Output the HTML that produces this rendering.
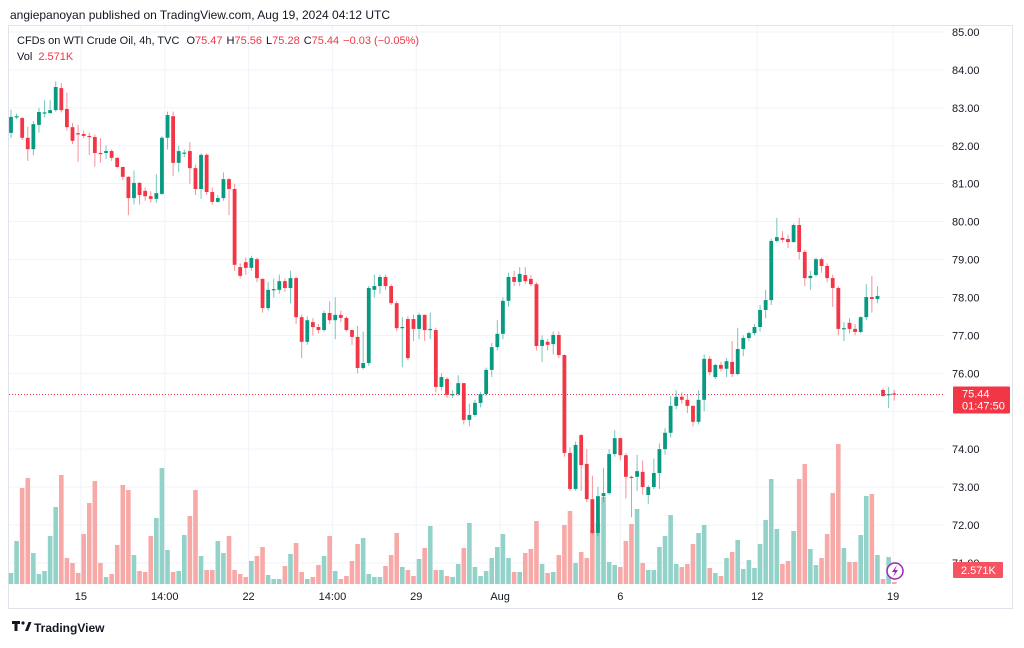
<!DOCTYPE html>
<html><head><meta charset="utf-8"><style>
body{margin:0;background:#fff;font-family:"Liberation Sans",sans-serif;}
svg text{font-family:"Liberation Sans",sans-serif;}
</style></head><body>
<svg id="chart" width="1024" height="643" viewBox="0 0 1024 643" xmlns="http://www.w3.org/2000/svg">
<rect width="1024" height="643" fill="#fff"/>
<text x="10" y="19" font-size="12" fill="#131722">angiepanoyan published on TradingView.com, Aug 19, 2024 04:12 UTC</text>
<rect x="8.5" y="25.5" width="1004" height="583" fill="none" stroke="#e0e3eb"/>
<g id="grid"></g>
<g id="vol"></g>
<g id="candles"></g>
<g id="axis"></g>
<text x="17" y="44" font-size="11" fill="#131722">CFDs on WTI Crude Oil, 4h, TVC <tspan dx="4">O</tspan><tspan fill="#f23645">75.47</tspan><tspan dx="4">H</tspan><tspan fill="#f23645">75.56</tspan><tspan dx="4">L</tspan><tspan fill="#f23645">75.28</tspan><tspan dx="4">C</tspan><tspan fill="#f23645">75.44</tspan><tspan dx="4" fill="#f23645">−0.03 (−0.05%)</tspan></text>
<text x="17" y="60" font-size="11" fill="#131722">Vol <tspan dx="3" fill="#f23645">2.571K</tspan></text>
<g>
<path d="M12 621h8v3h-2.5v7h-3v-7H12z" fill="#131722"/>
<circle cx="23" cy="623" r="1.6" fill="#131722"/>
<path d="M25 631l3.5-9h3l-3.5 9z" fill="#131722"/>
<text x="34" y="632" font-size="12" font-weight="bold" fill="#131722">TradingView</text>
</g>
</svg>
<script>
const opens=[82.34,82.75,82.73,82.21,81.91,82.55,82.86,82.86,82.94,83.52,82.97,82.49,82.33,82.31,82.26,82.23,81.81,81.81,81.86,81.68,81.44,81.18,80.62,81.02,80.81,80.67,80.60,80.73,82.21,82.78,81.55,81.81,81.86,81.41,80.86,81.76,80.78,80.52,80.62,81.12,80.86,78.80,78.93,78.78,79.01,78.49,77.72,78.20,78.20,78.43,78.25,78.51,77.48,76.83,77.35,77.22,77.14,77.59,77.40,77.54,77.46,77.14,76.96,76.14,76.27,78.20,78.30,78.54,78.30,77.85,77.19,77.43,77.43,77.17,77.54,77.14,77.14,75.64,75.85,75.43,75.45,75.74,74.77,74.90,75.22,75.45,76.09,76.69,77.04,77.91,78.54,78.41,78.59,78.49,78.35,76.72,76.83,76.77,77.01,76.48,73.90,72.95,74.37,73.61,72.68,71.79,72.76,72.84,73.87,74.29,73.84,73.27,73.27,73.40,72.79,73.00,73.37,74.00,74.43,75.14,75.38,75.30,75.14,74.72,75.30,76.38,75.90,76.22,76.12,76.30,75.98,76.64,76.93,77.06,77.22,77.67,77.93,79.49,79.57,79.54,79.46,79.91,79.20,78.51,78.59,79.01,78.83,78.51,78.25,77.17,77.33,77.17,77.09,77.48,78.01,77.96,75.56,75.42,75.47];
const closes=[82.76,82.78,82.21,81.91,82.57,82.89,82.88,82.94,83.55,82.94,82.49,82.13,82.31,82.26,82.23,81.81,81.80,81.86,81.68,81.44,81.18,80.62,81.02,80.70,80.67,80.60,80.75,82.21,82.81,81.55,81.86,81.82,81.41,80.86,81.76,80.78,80.52,80.62,81.12,80.86,78.86,78.57,78.78,79.04,78.51,77.72,78.20,78.22,78.43,78.25,78.51,77.48,76.83,77.40,77.22,77.14,77.59,77.40,77.54,77.46,77.14,76.96,76.14,76.27,78.25,78.30,78.54,78.30,77.85,77.19,77.22,76.40,77.17,77.54,77.14,77.17,75.64,75.90,75.43,75.45,75.74,74.77,74.90,75.22,75.45,76.09,76.69,77.04,77.91,78.54,78.41,78.62,78.43,78.35,76.72,76.88,76.75,77.01,76.48,73.90,72.95,74.11,73.58,72.68,71.79,72.76,72.84,73.87,74.29,73.84,73.27,73.25,73.42,73.00,73.00,73.37,74.00,74.43,75.14,75.38,75.30,75.14,74.72,75.30,76.38,76.03,76.22,76.12,76.32,75.98,76.64,76.93,77.06,77.22,77.67,77.93,79.49,79.59,79.52,79.46,79.91,79.20,78.51,78.57,79.01,78.83,78.51,78.25,77.17,77.19,77.17,77.09,77.48,78.01,77.96,78.04,75.40,75.45,75.44];
const highs=[82.95,82.85,82.76,82.5,82.65,83.0,83.2,83.2,83.7,83.65,83.4,82.6,82.55,82.4,82.35,82.3,82.2,82.0,81.9,81.7,81.45,81.2,81.35,81.05,80.9,80.8,81.25,82.25,82.9,82.9,82.0,81.9,82.1,81.5,81.8,81.8,80.9,80.7,81.3,81.15,81.0,78.9,79.05,79.1,79.05,78.5,78.4,78.5,78.6,78.5,78.7,78.55,77.55,77.5,77.45,77.3,77.65,77.9,78.0,77.65,77.5,77.15,77.25,77.1,78.3,78.6,78.6,78.6,78.35,77.9,77.48,77.5,77.55,77.6,77.55,77.6,77.2,76.0,75.9,75.55,75.95,75.75,75.2,75.3,75.5,76.15,76.8,77.4,78.0,78.65,78.7,78.8,78.8,78.6,78.4,77.0,76.9,77.1,77.1,76.5,74.05,74.2,74.4,74.0,73.3,73.0,73.5,74.0,74.5,74.3,73.9,73.3,73.85,73.7,73.05,73.75,74.15,74.55,75.4,75.55,75.5,75.45,75.15,75.55,76.5,76.45,76.25,76.3,76.4,76.85,77.2,77.0,77.1,77.3,77.8,78.2,79.55,80.1,79.75,79.65,79.95,80.1,79.25,78.7,79.05,79.05,78.9,78.6,78.3,77.35,77.45,77.3,77.5,78.35,78.57,78.3,75.6,75.64,75.56];
const lows=[82.2,82.7,82.15,81.6,81.75,82.35,82.75,82.85,82.9,82.88,82.4,82.05,81.58,82.2,81.75,81.45,81.55,81.65,81.6,81.4,81.1,80.17,80.45,80.45,80.55,80.5,80.5,80.7,81.9,81.2,81.3,81.7,81.0,80.7,80.6,80.7,80.45,80.5,80.55,80.17,78.7,78.5,78.6,78.7,78.4,77.6,77.65,78.0,78.1,78.15,77.85,77.3,76.4,76.75,77.0,77.05,77.1,77.3,76.9,77.35,77.1,76.75,76.0,76.1,76.2,78.0,78.1,78.2,77.8,77.1,76.16,76.35,76.85,76.9,76.85,76.9,75.5,75.55,75.35,75.35,75.4,74.65,74.6,74.85,75.1,75.4,75.9,76.6,76.9,77.75,78.3,78.3,78.35,78.3,76.6,76.3,76.6,76.5,76.4,73.8,72.9,72.9,72.9,72.6,71.75,71.7,72.6,72.8,73.8,73.7,72.7,72.2,72.9,72.8,72.55,72.95,72.95,73.85,74.3,75.05,75.2,74.95,74.6,74.65,75.0,75.95,75.85,76.05,75.9,75.9,75.95,76.45,76.85,77.0,77.1,77.45,77.8,79.45,79.45,79.3,79.45,79.0,78.3,78.2,78.55,78.65,78.4,77.75,77.0,76.85,77.05,77.0,77.05,77.4,77.6,77.85,75.38,75.08,75.28];
const volumes=[1.1,4.3,9.6,10.6,3.1,1.0,1.3,4.8,7.7,10.9,2.6,2.1,1.1,5.0,8.1,10.3,2.1,0.7,1.0,3.9,9.9,9.4,2.9,1.3,1.2,4.8,6.6,11.6,3.4,1.2,1.3,4.9,6.8,9.4,2.8,1.4,1.4,4.3,3.1,4.8,1.4,1.0,0.7,2.3,2.8,3.7,0.9,0.5,0.5,1.8,3.0,4.1,1.2,0.5,0.7,1.9,2.8,4.8,1.3,0.5,0.8,2.3,4.0,4.6,1.0,0.7,0.7,1.8,2.9,5.1,1.7,1.4,0.8,2.5,3.6,5.8,1.4,1.4,0.8,0.7,2.0,3.6,6.1,1.7,0.8,1.3,2.6,3.7,5.0,2.6,1.2,1.2,3.1,3.5,6.3,2.0,1.1,1.2,2.9,5.9,7.3,2.1,3.2,2.6,5.4,6.1,8.7,2.2,1.9,1.7,4.3,6.0,7.5,2.1,1.4,1.4,3.7,4.8,6.9,2.0,1.7,2.0,4.0,5.1,5.9,1.6,1.1,0.8,2.6,3.2,4.4,1.5,2.4,1.6,4.0,6.4,10.5,5.5,2.0,2.3,5.3,10.5,12.0,3.5,1.9,2.6,5.0,9.1,14.0,3.6,2.2,2.2,4.9,8.8,9.0,2.9,0.5,2.7,0.2];
const priceTicks=[85,84,83,82,81,80,79,78,77,76,74,73,72,71];
const timeLabels=["15","14:00","22","14:00","29","Aug","6","12","19"];
const timeLabelIdx=[12.5,27.5,42.5,57.5,72.5,87.5,109,133.5,157.8];
const lastPrice=75.44;

const NS="http://www.w3.org/2000/svg";
const plotL=9,plotR=945,plotT=26,plotB=584;
const yP=p=>32+(85-p)*37.92;
const xI=i=>11+5.59*i;
const yV=v=>584-v*10;
function mk(tag,attrs,parent){const e=document.createElementNS(NS,tag);for(const k in attrs)e.setAttribute(k,attrs[k]);parent.appendChild(e);return e;}
const grid=document.getElementById('grid'),vol=document.getElementById('vol'),cg=document.getElementById('candles'),ax=document.getElementById('axis');
priceTicks.concat([75]).forEach(p=>{
  const l=mk('line',{x1:plotL,x2:plotR,y1:yP(p),y2:yP(p),stroke:'#f0f3fa','stroke-width':1},grid);
  
  
});
timeLabelIdx.forEach((ix,k)=>{
  const x=xI(ix);
  const l=mk('line',{x1:x,x2:x,y1:plotT,y2:plotB,stroke:'#f0f3fa','stroke-width':1},grid);
  
  
  const t=mk('text',{x:x,y:600,'font-size':11,fill:'#131722','text-anchor':'middle'},ax);
  t.textContent=timeLabels[k];
  
  
});
volumes.forEach((v,i)=>{
  const up=closes[i]>=opens[i];
  const r=mk('rect',{x:xI(i)-2.3,y:yV(v),width:4.6,height:584-yV(v),fill:up?'#92d2c8':'#f7a9a7'},vol);
  
  
});
const pl=mk('line',{x1:plotL,x2:plotR,y1:yP(lastPrice),y2:yP(lastPrice),stroke:'#f23645','stroke-width':1,'stroke-dasharray':'1 2'},grid);


opens.forEach((o,i)=>{
  const c=closes[i],up=c>=o,col=up?'#089981':'#f23645',x=xI(i);
  const g=mk('g',{},cg);
  
  
  mk('line',{x1:x,x2:x,y1:yP(highs[i]),y2:yP(lows[i]),stroke:col,'stroke-width':1,opacity:0.55},g);
  const top=yP(Math.max(o,c)),bot=yP(Math.min(o,c));
  mk('rect',{x:x-1.9,y:top,width:3.8,height:Math.max(1.2,bot-top),fill:col},g);
});
priceTicks.forEach(p=>{
  const t=mk('text',{x:952,y:yP(p)+4,'font-size':11,fill:'#131722'},ax);
  t.textContent=p.toFixed(2);
  
  
});
const pb=mk('g',{},ax);


mk('rect',{x:953,y:yP(lastPrice)-8,width:57,height:27,fill:'#f23645',rx:1},pb);
mk('text',{x:962,y:yP(lastPrice)+3,'font-size':11,fill:'#fff'},pb).textContent=lastPrice.toFixed(2);
mk('text',{x:962,y:yP(lastPrice)+15,'font-size':11,fill:'#fff'},pb).textContent='01:47:50';
const vb=mk('g',{},ax);


mk('rect',{x:953,y:562,width:50,height:16,fill:'#f7525f',rx:1},vb);
mk('text',{x:961,y:574,'font-size':11,fill:'#fff'},vb).textContent='2.571K';
const li=mk('g',{},ax);


mk('circle',{cx:895,cy:571,r:8,fill:'#fff',stroke:'#9c27b0','stroke-width':1.5},li);
mk('path',{d:'M897 565l-5 7h3l-2 5 5-7h-3z',fill:'#9c27b0'},li);
</script>
</body></html>
